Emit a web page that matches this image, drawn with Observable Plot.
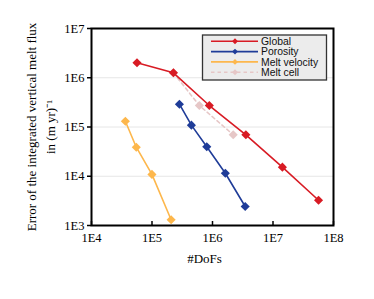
<!DOCTYPE html>
<html><head><meta charset="utf-8">
<script src="https://cdn.jsdelivr.net/npm/d3@7"></script>
<script src="https://cdn.jsdelivr.net/npm/@observablehq/plot@0.6"></script>
<style>body{margin:0;background:#fff;} #chart{width:374px;height:299px;}</style>
</head><body><div id="chart"></div>
<script>
const seriesNames = ["Global", "Porosity", "Melt velocity", "Melt cell"];
const globalDofs = [5.65e4, 2.26e5, 8.86e5, 3.56e6, 1.43e7, 5.66e7];
const globalErr = [2.01e6, 1.26e6, 2.73e5, 6.95e4, 1.53e4, 3.26e3];
const porosityDofs = [2.84e5, 4.48e5, 8.04e5, 1.63e6, 3.47e6];
const porosityErr = [2.9e5, 1.09e5, 3.96e4, 1.15e4, 2.43e3];
const velocityDofs = [3.63e4, 5.5e4, 9.98e4, 2.07e5];
const velocityErr = [1.31e5, 3.89e4, 1.09e4, 1.31e3];
const cellDofs = [2.26e5, 6.06e5, 2.2e6];
const cellErr = [1.26e6, 2.73e5, 6.95e4];
const xTicks = [1e4, 1e5, 1e6, 1e7, 1e8];
const xTickLabels = ["1E4", "1E5", "1E6", "1E7", "1E8"];
const yTicks = [1e3, 1e4, 1e5, 1e6, 1e7];
const yTickLabels = ["1E3", "1E4", "1E5", "1E6", "1E7"];
const colors = ["#d81b24", "#1f3c98", "#fdb74c", "#e6c7c7"];
const xLabel = "#DoFs";
const yLabel = "Error of the integrated vertical melt flux\nin (m yr)⁻¹";

const mk = (xs, ys, s) => xs.map((x, i) => ({x, y: ys[i], s}));
const series = [
  mk(globalDofs, globalErr, seriesNames[0]),
  mk(porosityDofs, porosityErr, seriesNames[1]),
  mk(velocityDofs, velocityErr, seriesNames[2]),
  mk(cellDofs, cellErr, seriesNames[3])
];
const order = [3, 0, 1, 2];
const marks = [
  Plot.ruleY(yTicks, {stroke: "#e6e6e6", strokeWidth: 1})
];
for (const k of order) {
  marks.push(Plot.line(series[k], {x: "x", y: "y", stroke: colors[k], strokeWidth: 1.6,
    strokeDasharray: k === 3 ? "3.5,3" : null}));
  marks.push(Plot.dot(series[k], {x: "x", y: "y", fill: colors[k], symbol: "diamond2", r: 4.1}));
}
marks.push(Plot.tickX(xTicks, {x: d => d, stroke: "#000", strokeWidth: 1.5, insetTop: 193}));
marks.push(Plot.frame({stroke: "#000", strokeWidth: 2}));
marks.push(Plot.axisY({ticks: yTicks, tickFormat: d => yTickLabels[yTicks.indexOf(d)], tickSize: 4, tickPadding: 3, label: null, strokeWidth: 1.5}));
marks.push(Plot.axisX({ticks: xTicks, tickFormat: d => xTickLabels[xTicks.indexOf(d)], tickSize: 0, tickPadding: 8, label: null}));
marks.push(Plot.text([yLabel], {frameAnchor: "left", text: d => d, rotate: -90, dx: -52, textAnchor: "middle", lineAnchor: "middle", lineHeight: 1.5, fontSize: 13, fill: "#000"}));
marks.push(Plot.text([xLabel], {frameAnchor: "bottom", text: d => d, dy: 33.5, dx: -8, textAnchor: "middle", lineAnchor: "middle", fontSize: 13, fill: "#000"}));

const svg = Plot.plot({
  width: 374, height: 299,
  marginLeft: 91, marginRight: 41, marginTop: 28, marginBottom: 74,
  x: {type: "log", domain: [1e4, 1e8]},
  y: {type: "log", domain: [1e3, 1e7]},
  style: {fontFamily: "'Liberation Serif', 'Times New Roman', serif", fontSize: "12.5px", color: "#000", background: "#fff"},
  marks
});
document.getElementById("chart").appendChild(svg);

// legend (inside plot, upper right)
const g = d3.select(svg).append("g")
  .attr("font-family", "'Liberation Sans', Arial, sans-serif")
  .attr("font-size", "10.4px").attr("text-anchor", "start");
g.append("rect").attr("x", 202.5).attr("y", 35).attr("width", 124).attr("height", 45)
  .attr("fill", "#ececec").attr("stroke", "#333").attr("stroke-width", 1.3);
seriesNames.forEach((name, i) => {
  const yy = 41.3 + i * 10.3;
  g.append("line").attr("x1", 211).attr("x2", 258).attr("y1", yy).attr("y2", yy)
    .attr("stroke", colors[i]).attr("stroke-width", 1.6).attr("stroke-dasharray", i === 3 ? "3.5,3" : null);
  g.append("path").attr("d", d3.symbol(d3.symbolDiamond2, 22)()).attr("transform", `translate(235,${yy})`).attr("fill", colors[i]);
  g.append("text").attr("x", 261).attr("y", yy).attr("dy", "0.35em").attr("fill", "#111").text(name);
});
</script></body></html>
